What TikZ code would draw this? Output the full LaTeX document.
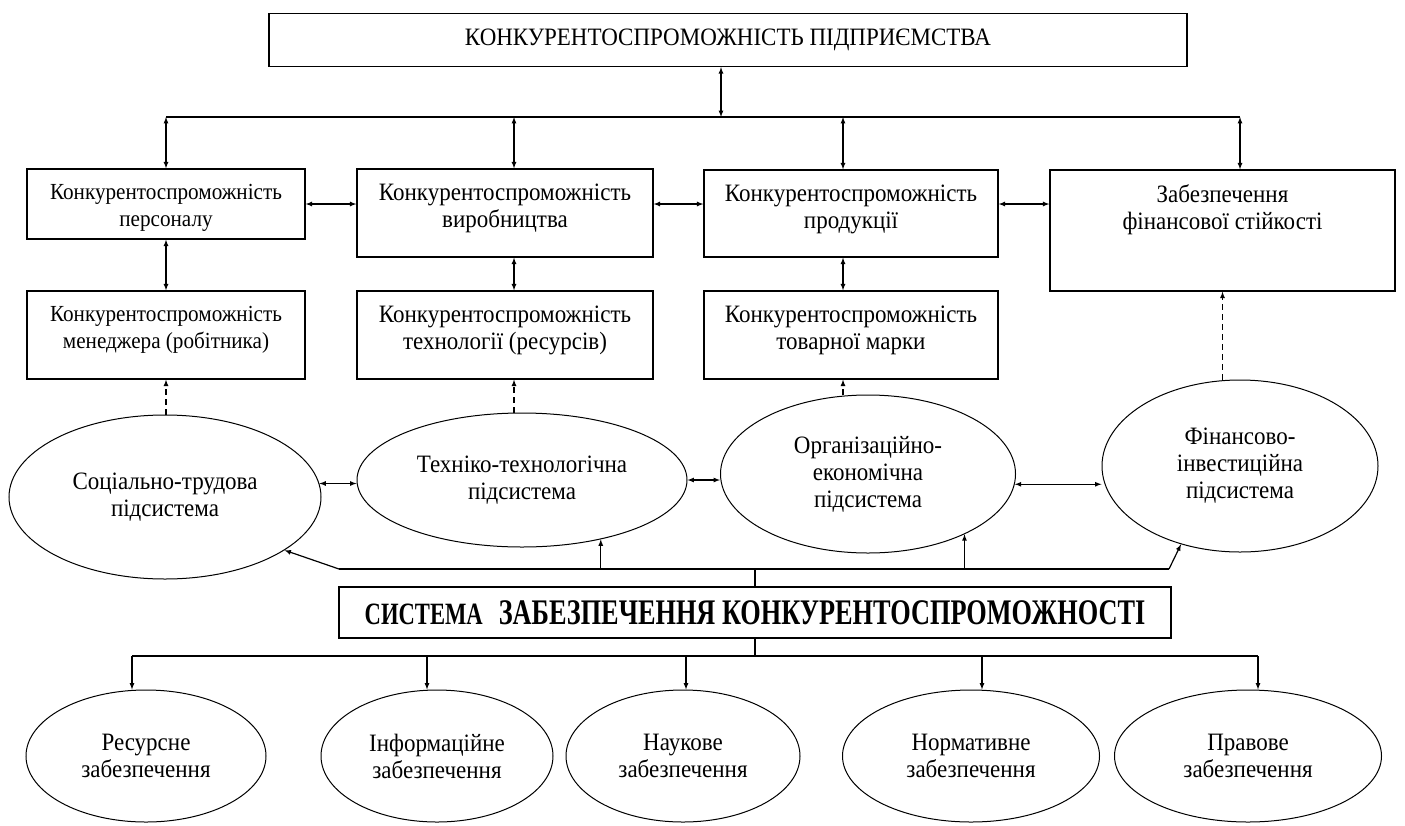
\documentclass[tikz,border=0pt]{standalone}
\usepackage{fontspec}
\setmainfont{Liberation Serif}[FakeStretch=0.92]
\newfontfamily\narrowbold{Liberation Serif Bold}[FakeStretch=0.73]
\usepackage{tikz}
\usetikzlibrary{arrows,positioning,calc,shapes.geometric}
\tikzstyle{block}=[draw,line width=1.3pt,rectangle,inner sep=0pt]
\tikzstyle{oval}=[draw,line width=1pt,ellipse,inner sep=0pt,align=center,font=\fontsize{25}{27}\selectfont]
\tikzstyle{wire}=[line width=1.2pt]
\tikzstyle{link}=[wire,latex-latex]
\tikzstyle{up}=[wire,-latex]
\tikzstyle{weak}=[wire,-latex,dash pattern=on 6pt off 4pt]
\newcommand{\boxtext}[4]{\parbox[c][#2][t]{#1}{\centering\fontsize{#3}{27}\selectfont\vspace*{15pt}#4}}

\begin{document}
\begin{tikzpicture}[x=1pt,y=-1pt]
\useasboundingbox (0,0) rectangle (1405,825);
% enterprise level
\node [block,minimum width=918pt,minimum height=53pt,font=\fontsize{25}{27}\selectfont] (firm) at (728,40) {КОНКУРЕНТОСПРОМОЖНІСТЬ ПІДПРИЄМСТВА};
\coordinate (hub) at (721,117);
\coordinate (b1) at (166,117);
\coordinate (b2) at (514,117);
\coordinate (b3) at (843,117);
\coordinate (b4) at (1240,117);
\draw [link] (firm.south -| hub) -- (hub);
\draw [wire] (b1) -- (b4);
% first row
\node [block] (pers) at (166,204) {\boxtext{278pt}{70pt}{23}{Конкурентоспроможність\\персоналу}};
\node [block] (vyr) at (505,213) {\boxtext{296pt}{88pt}{25}{Конкурентоспроможність\\виробництва}};
\node [block] (prod) at (851,213.5) {\boxtext{294pt}{87pt}{25}{Конкурентоспроможність\\продукції}};
\node [block] (fin) at (1222.5,230.5) {\boxtext{345pt}{121pt}{25}{Забезпечення\\фінансової стійкості}};
% second row
\node [block] (men) at (166,335) {\boxtext{278pt}{88pt}{23}{Конкурентоспроможність\\менеджера (робітника)}};
\node [block] (tech) at (505,335) {\boxtext{296pt}{88pt}{25}{Конкурентоспроможність\\технології (ресурсів)}};
\node [block] (marka) at (851,335) {\boxtext{294pt}{88pt}{25}{Конкурентоспроможність\\товарної марки}};
\foreach \b/\n in {b1/pers,b2/vyr,b3/prod,b4/fin}
  \draw [link] (\b) -- (\b |- \n.north);
\draw [link] (pers.east) -- (pers.east -| vyr.west);
\draw [link] (vyr.east |- pers.east) -- (prod.west |- pers.east);
\draw [link] (prod.east |- pers.east) -- (fin.west |- pers.east);
\draw [link] (pers.south) -- (men.north);
\draw [link] (b2 |- vyr.south) -- (b2 |- tech.north);
\draw [link] (b3 |- prod.south) -- (b3 |- marka.north);
% subsystems
\node [oval,minimum width=312pt,minimum height=164pt] (soc) at (165,497) {Соціально-трудова\\підсистема};
\node [oval,minimum width=330pt,minimum height=134pt] (tekh) at (522,480) {Техніко-технологічна\\підсистема};
\node [oval,minimum width=295pt,minimum height=158pt] (org) at (868,474) {Організаційно-\\економічна\\підсистема};
\node [oval,minimum width=276pt,minimum height=172pt] (finv) at (1240,466) {Фінансово-\\інвестиційна\\підсистема};
\draw [weak] (men.south |- soc.north) -- (men.south);
\draw [weak] (b2 |- tekh.north) -- (b2 |- tech.south);
\draw [weak] (b3 |- org.north) -- (b3 |- marka.south);
\draw [weak] (fin.south |- finv.north) -- (fin.south);
\draw [link] (soc.5) -- (soc.5 -| tekh.west);
\draw [link] (tekh.east) -- (tekh.east -| org.west);
\draw [link] (org.-4) -- (org.-4 -| finv.west);
% system
\node [block,minimum width=832pt,minimum height=51pt,font=\narrowbold] (sys) at (755,612.5) {{\fontsize{31}{34}\selectfont СИСТЕМА}\hspace{16pt}{\fontsize{36}{40}\selectfont ЗАБЕЗПЕЧЕННЯ КОНКУРЕНТОСПРОМОЖНОСТІ}};
\coordinate (sL) at (339,569);
\coordinate (sR) at (1169,569);
\draw [wire] (sys.north) -- (sys.north |- sL);
\draw [wire] (sL) -- (sR);
\draw [up] (sL) -- (soc.-24);
\draw [up] (tekh.-37 |- sL) -- (tekh.-37);
\draw [up] (org.-32 |- sL) -- (org.-32);
\draw [up] (sR) -- (finv.-127);
% kinds of support
\node [oval,minimum width=240pt,minimum height=132pt] (res) at (146,756) {Ресурсне\\забезпечення};
\node [oval,minimum width=232pt,minimum height=132pt] (inf) at (437,756) {Інформаційне\\забезпечення};
\node [oval,minimum width=234pt,minimum height=132pt] (nauk) at (683,756) {Наукове\\забезпечення};
\node [oval,minimum width=257pt,minimum height=132pt] (norm) at (971,756) {Нормативне\\забезпечення};
\node [oval,minimum width=267pt,minimum height=132pt] (prav) at (1248,756) {Правове\\забезпечення};
\coordinate (d1) at (132,656);
\coordinate (d2) at (427,656);
\coordinate (d3) at (686,656);
\coordinate (d4) at (982,656);
\coordinate (d5) at (1258,656);
\draw [wire] (sys.south) -- (sys.south |- d1);
\draw [wire] (d1) -- (d5);
\foreach \d/\n in {d1/res,d2/inf,d3/nauk,d4/norm,d5/prav}
  \draw [up] (\d) -- (\d |- \n.north);
\end{tikzpicture}
\end{document}
